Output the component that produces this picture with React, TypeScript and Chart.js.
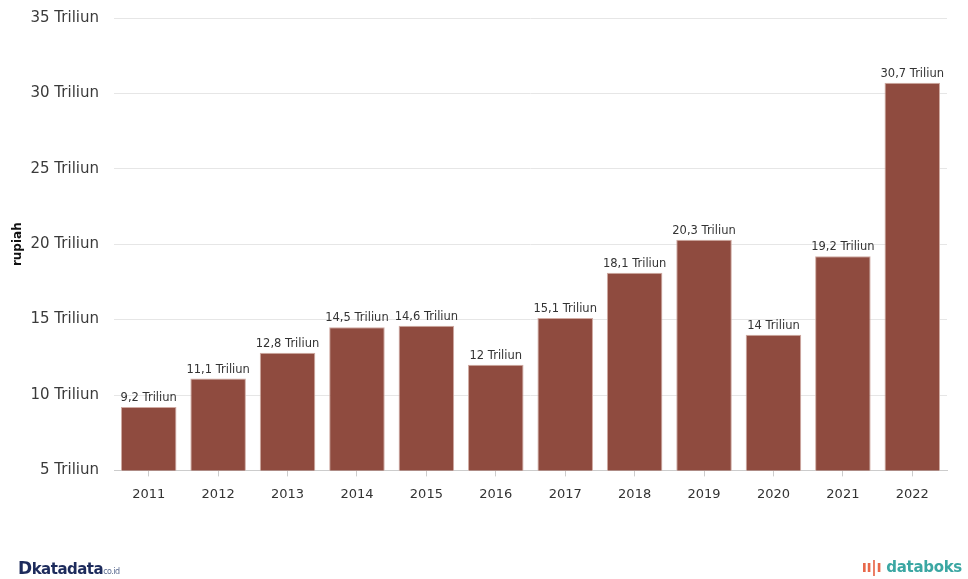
import React, { useEffect, useRef } from "react";
import { Chart, registerables } from "chart.js";

Chart.register(...registerables);

const years = ["2011", "2012", "2013", "2014", "2015", "2016", "2017", "2018", "2019", "2020", "2021", "2022"];
const values = [9.2, 11.1, 12.8, 14.5, 14.6, 12, 15.1, 18.1, 20.3, 14, 19.2, 30.7];
const valueLabels = ["9,2", "11,1", "12,8", "14,5", "14,6", "12", "15,1", "18,1", "20,3", "14", "19,2", "30,7"];
const yTicks = [5, 10, 15, 20, 25, 30, 35];

const FONT = "'DejaVu Sans', Verdana, sans-serif";

const labelPlugin = {
  id: "barLabels",
  afterDatasetsDraw(chart: any) {
    const ctx = chart.ctx;
    const meta = chart.getDatasetMeta(0);
    ctx.save();
    ctx.font = `11.5px ${FONT}`;
    ctx.fillStyle = "#333333";
    ctx.textAlign = "center";
    ctx.textBaseline = "bottom";
    meta.data.forEach((bar: any, i: number) => {
      ctx.fillText(`${valueLabels[i]} Triliun`, bar.x, bar.y - 3);
    });
    ctx.restore();
  },
};

export default function App() {
  const ref = useRef<HTMLCanvasElement>(null);
  useEffect(() => {
    document.body.style.margin = "0";
    const chart = new Chart(ref.current!, {
      type: "bar",
      data: {
        labels: years,
        datasets: [
          {
            data: values,
            backgroundColor: "#8f4b3f",
            borderColor: "#d0aaa2",
            borderWidth: 1,
            barPercentage: 0.8,
            categoryPercentage: 1,
          },
        ],
      },
      options: {
        animation: false,
        responsive: false,
        maintainAspectRatio: false,
        layout: { padding: { top: 18, right: 21, bottom: 67, left: 0 } },
        plugins: { legend: { display: false }, tooltip: { enabled: false } },
        scales: {
          x: {
            grid: { display: true, drawOnChartArea: false, offset: false, tickLength: 6, color: "#cccccc" },
            border: { display: true, color: "#cccccc" },
            ticks: { font: { family: FONT, size: 13 }, color: "#333333", padding: 10 },
          },
          y: {
            min: 5,
            max: 35,
            afterBuildTicks(axis: any) {
              axis.ticks = yTicks.map((v) => ({ value: v }));
            },
            afterFit(axis: any) {
              axis.width = 114;
              axis.paddingTop = 0;
              axis.paddingBottom = 0;
            },
            grid: { color: "#e6e6e6", drawTicks: false },
            border: { display: false },
            ticks: {
              font: { family: FONT, size: 15 },
              color: "#3a3a3a",
              padding: 15,
              callback: (v: any) => `${v} Triliun`,
            },
            title: {
              display: true,
              text: "rupiah",
              font: { family: FONT, size: 12, weight: "bold" },
              color: "#111111",
              padding: { top: 11, bottom: 0 },
            },
          },
        },
      },
      plugins: [labelPlugin],
    });
    return () => chart.destroy();
  }, []);

  return (
    <div style={{ position: "relative", width: 968, height: 579, background: "#fff", overflow: "hidden" }}>
      <canvas ref={ref} width={968} height={579} style={{ display: "block" }} />
      <div
        style={{
          position: "absolute",
          left: 18,
          top: 558,
          fontFamily: FONT,
          fontWeight: "bold",
          fontSize: 15,
          color: "#1d2b5c",
          letterSpacing: -0.5,
        }}
      >
        <span style={{ fontSize: 17 }}>D</span>katadata<span style={{ fontSize: 8, fontWeight: "normal", color: "#5a6a90" }}>co.id</span>
      </div>
      <div
        style={{
          position: "absolute",
          right: 6,
          top: 558,
          fontFamily: FONT,
          fontWeight: "bold",
          fontSize: 15,
          color: "#3ba7a3",
          letterSpacing: -0.3,
        }}
      >
        <span style={{ color: "#e8684a" }}>ıı|ı </span>databoks
      </div>
    </div>
  );
}
